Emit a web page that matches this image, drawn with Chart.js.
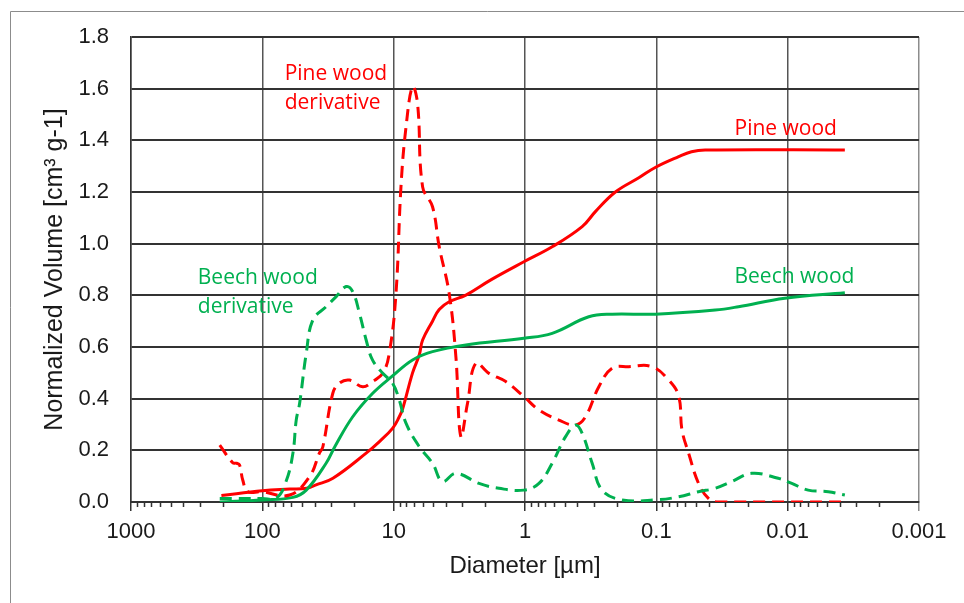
<!DOCTYPE html>
<html>
<head>
<meta charset="utf-8">
<script src="https://cdn.jsdelivr.net/npm/chart.js@4.4.1/dist/chart.umd.min.js"></script>
<style>
  html, body { margin: 0; padding: 0; background: #fff; }
  canvas { display: block; }
</style>
</head>
<body>
<canvas id="pores" width="964" height="603"></canvas>
<script>
// pore size distribution, diameters in µm, volumes in cm3/g
const pineWoodDiameter = [205, 100, 62, 46, 39, 29, 16.2, 12.9, 10.2, 9.06, 8.55, 7.18, 6.38, 6.02, 5.06, 4.5, 3.78, 2.82, 1.82, 1.02, 0.621, 0.367, 0.29, 0.205, 0.136, 0.102, 0.0676, 0.054, 0.0425, 0.00367];
const pineWoodVolume = [0.025, 0.044, 0.05, 0.053, 0.066, 0.092, 0.189, 0.233, 0.285, 0.33, 0.36, 0.5, 0.57, 0.627, 0.70, 0.745, 0.775, 0.801, 0.86, 0.93, 0.988, 1.066, 1.125, 1.2, 1.255, 1.295, 1.337, 1.356, 1.363, 1.363];

const beechWoodDiameter = [211, 100, 58.5, 46.3, 32.7, 28, 20.5, 14.5, 10.2, 7.18, 5.06, 2.82, 1.02, 0.621, 0.327, 0.217, 0.102, 0.0356, 0.0237, 0.0105, 0.00367];
const beechWoodVolume = [0.0, 0.008, 0.018, 0.046, 0.15, 0.215, 0.33, 0.42, 0.488, 0.55, 0.582, 0.608, 0.634, 0.653, 0.717, 0.727, 0.727, 0.743, 0.756, 0.789, 0.81];

const pineDerivDiameter = [211, 168, 157, 149, 141, 129, 102, 62, 43.7, 36.7, 34.6, 29.1, 25.9, 21.7, 17.2, 14.5, 12.1, 10.8, 9.6, 8.8, 8.06, 7.18, 6.58, 6.02, 5.06, 4.5, 3.78, 3.36, 3.08, 2.74, 2.37, 1.88, 1.4, 1.02, 0.783, 0.552, 0.412, 0.346, 0.274, 0.217, 0.162, 0.108, 0.0805, 0.0676, 0.0638, 0.0568, 0.0477, 0.0401, 0.0337, 0.00367];
const pineDerivVolume = [0.22, 0.152, 0.15, 0.143, 0.085, 0.04, 0.04, 0.027, 0.098, 0.19, 0.214, 0.42, 0.46, 0.472, 0.446, 0.466, 0.498, 0.576, 0.808, 1.22, 1.45, 1.608, 1.543, 1.22, 1.143, 0.988, 0.808, 0.563, 0.253, 0.382, 0.537, 0.498, 0.466, 0.408, 0.356, 0.317, 0.298, 0.33, 0.446, 0.518, 0.524, 0.524, 0.472, 0.41, 0.279, 0.189, 0.072, 0.014, 0.0, 0.0];

const beechDerivDiameter = [211, 100, 78, 66, 58.5, 55.2, 52, 46.3, 41.2, 32.7, 27.4, 23, 20.5, 18.2, 16.2, 14.5, 12.1, 10.2, 9.06, 8.06, 6.38, 5.06, 4.25, 3.36, 2.24, 1.58, 1.02, 0.783, 0.621, 0.491, 0.412, 0.367, 0.308, 0.259, 0.182, 0.102, 0.0676, 0.0477, 0.0356, 0.0267, 0.0188, 0.0118, 0.0093, 0.00698, 0.00491, 0.00367];
const beechDerivVolume = [0.014, 0.014, 0.016, 0.079, 0.189, 0.317, 0.382, 0.576, 0.705, 0.756, 0.795, 0.834, 0.814, 0.73, 0.627, 0.55, 0.498, 0.46, 0.395, 0.305, 0.214, 0.15, 0.079, 0.111, 0.072, 0.053, 0.046, 0.072, 0.15, 0.253, 0.298, 0.266, 0.15, 0.046, 0.008, 0.008, 0.02, 0.04, 0.053, 0.079, 0.111, 0.092, 0.072, 0.046, 0.04, 0.027];

const xTickValues = [0.001, 0.01, 0.1, 1, 10, 100, 1000];
const xTickLabels = ['0.001', '0.01', '0.1', '1', '10', '100', '1000'];

// curve labels: [text lines, diameter, volume of first line]
const curveLabels = [
  { lines: ['Pine wood', 'derivative'], x: 67.6, y: 1.657, color: '#ff0000' },
  { lines: ['Beech wood', 'derivative'], x: 310, y: 0.867, color: '#00b050' },
  { lines: ['Pine wood'], x: 0.0254, y: 1.444, color: '#ff0000' },
  { lines: ['Beech wood'], x: 0.0254, y: 0.871, color: '#00b050' },
];

const RED = '#ff0000';
const GREEN = '#00b050';

function points(xs, ys) {
  return xs.map((x, i) => ({ x, y: ys[i] }));
}

function series(label, xs, ys, color, dashed) {
  return {
    label,
    data: points(xs, ys),
    borderColor: color,
    borderWidth: 3,
    borderDash: dashed ? [12, 7] : [],
    pointRadius: 0,
    tension: 0.4,
    fill: false,
  };
}

const frame = {
  id: 'frame',
  beforeDraw(chart) {
    const ctx = chart.ctx;
    ctx.save();
    ctx.strokeStyle = '#8c8c8c';
    ctx.lineWidth = 1;
    ctx.beginPath();
    ctx.moveTo(10.5, 603);
    ctx.lineTo(10.5, 11.5);
    ctx.lineTo(964, 11.5);
    ctx.stroke();
    ctx.restore();
  },
};

const minorTicks = {
  id: 'minorTicks',
  afterDraw(chart) {
    const xs = chart.scales.x;
    const bottom = chart.chartArea.bottom;
    const ctx = chart.ctx;
    ctx.save();
    ctx.strokeStyle = '#333';
    ctx.lineWidth = 1.5;
    ctx.beginPath();
    for (let i = 0; i < xTickValues.length - 1; i++) {
      for (let m = 2; m <= 9; m++) {
        const px = Math.round(xs.getPixelForValue(xTickValues[i] * m)) + 0.5;
        ctx.moveTo(px, bottom);
        ctx.lineTo(px, bottom + 5);
      }
    }
    ctx.stroke();
    ctx.restore();
  },
};

const curveText = {
  id: 'curveText',
  afterDatasetsDraw(chart) {
    const { ctx, scales } = chart;
    ctx.save();
    ctx.font = '21px "Open Sans"';
    ctx.textAlign = 'left';
    ctx.textBaseline = 'middle';
    curveLabels.forEach((lbl) => {
      const px = scales.x.getPixelForValue(lbl.x);
      const py = scales.y.getPixelForValue(lbl.y);
      ctx.fillStyle = lbl.color;
      lbl.lines.forEach((line, i) => ctx.fillText(line, px, py + i * 29));
    });
    ctx.restore();
  },
};

new Chart(document.getElementById('pores'), {
  type: 'line',
  data: {
    datasets: [
      series('Beech wood derivative', beechDerivDiameter, beechDerivVolume, GREEN, true),
      series('Pine wood derivative', pineDerivDiameter, pineDerivVolume, RED, true),
      series('Beech wood', beechWoodDiameter, beechWoodVolume, GREEN, false),
      series('Pine wood', pineWoodDiameter, pineWoodVolume, RED, false),
    ],
  },
  options: {
    responsive: false,
    animation: false,
    layout: { padding: { left: 0, top: 37, right: 45, bottom: 0 } },
    plugins: {
      legend: { display: false },
      tooltip: { enabled: false },
    },
    scales: {
      x: {
        type: 'logarithmic',
        reverse: true,
        min: 0.001,
        max: 1000,
        afterBuildTicks(scale) {
          scale.ticks = xTickValues.map((v) => ({ value: v, major: true }));
        },
        afterFit(scale) {
          scale.height = 101;
        },
        ticks: {
          autoSkip: false,
          maxRotation: 0,
          padding: 8,
          color: '#1a1a1a',
          font: { family: '"Liberation Sans", Arial, sans-serif', size: 22 },
          callback: (value) => xTickLabels[xTickValues.indexOf(value)],
        },
        grid: {
          color: (c) => (c.tick && c.tick.value === 0.001 ? '#8c8c8c' : '#555'),
          lineWidth: 1.5,
          tickLength: 9,
          tickColor: (c) => (c.tick && c.tick.value === 0.001 ? '#8c8c8c' : '#333'),
        },
        border: { display: true, color: '#333', width: 2 },
        title: {
          display: true,
          text: 'Diameter [µm]',
          color: '#1a1a1a',
          font: { family: '"Liberation Sans", Arial, sans-serif', size: 24 },
          padding: { top: 0, bottom: 22 },
        },
      },
      y: {
        min: 0,
        max: 1.8,
        afterFit(scale) {
          scale.width = 131;
        },
        ticks: {
          stepSize: 0.2,
          padding: 22,
          color: '#1a1a1a',
          font: { family: '"Liberation Sans", Arial, sans-serif', size: 22 },
          callback: (value) => value.toFixed(1),
        },
        grid: { color: '#333', lineWidth: 2, drawTicks: false },
        border: { display: true, color: '#333', width: 1.5 },
        title: {
          display: true,
          text: 'Normalized Volume [cm³ g-1]',
          color: '#1a1a1a',
          font: { family: '"Liberation Sans", Arial, sans-serif', size: 25 },
          padding: { top: 40, bottom: 0 },
        },
      },
    },
  },
  plugins: [frame, minorTicks, curveText],
});
</script>
</body>
</html>
